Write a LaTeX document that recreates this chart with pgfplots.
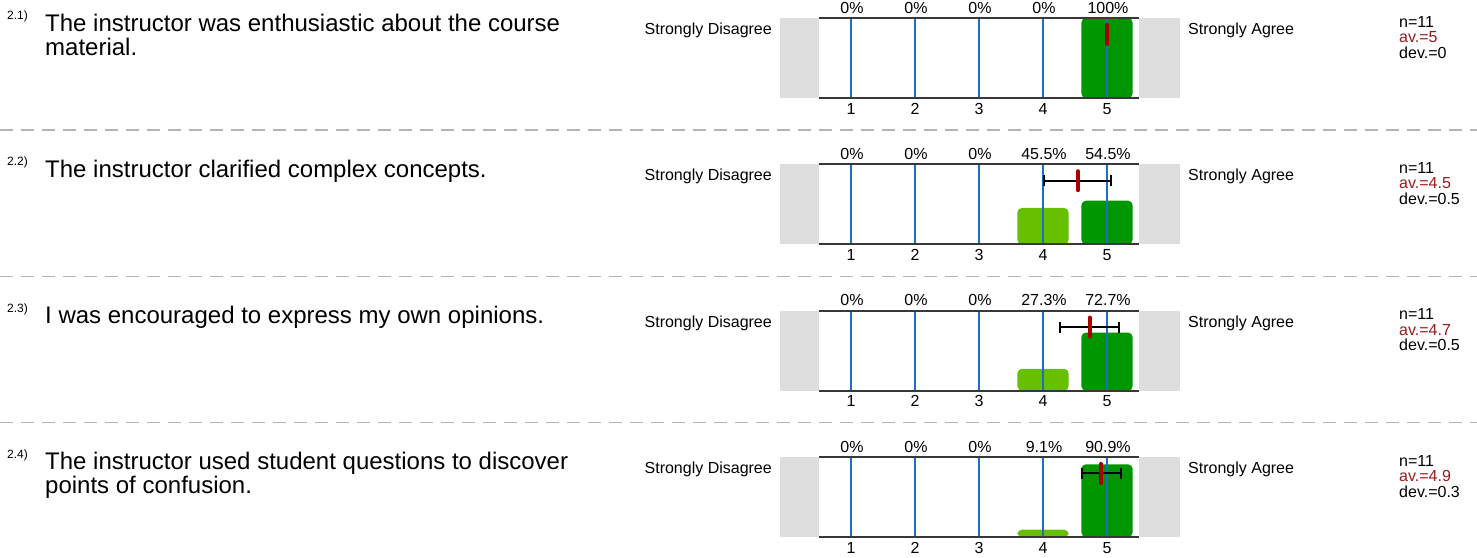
\documentclass[border=0pt]{standalone}
\usepackage{fontspec}
\setmainfont{Liberation Sans}
\usepackage{pgfplots}
\pgfplotsset{compat=1.18}

\definecolor{boxgray}{HTML}{DEDEDE}
\definecolor{axisgray}{HTML}{383838}
\definecolor{gridblue}{RGB}{30,110,195}
\definecolor{lgreen}{HTML}{66C000}
\definecolor{dgreen}{HTML}{009600}
\definecolor{meanred}{HTML}{A80000}
\definecolor{avred}{HTML}{9B1B1B}
\definecolor{dashgray}{HTML}{B4B4B4}

\newcommand\sm{\fontsize{16pt}{16pt}\selectfont}
\newcommand\qf{\fontsize{24pt}{24pt}\selectfont}
\newcommand\nf{\fontsize{12pt}{12pt}\selectfont}

\pgfplotsset{
  panel/.style={width=320pt,height=80pt,scale only axis,anchor=north west,
    xmin=0.5,xmax=5.5,ymin=5,ymax=105,
    xtick={1,2,3,4,5},ytick=\empty,
    axis line style={draw=none},major tick length=0pt,tick style={draw=none},
    xticklabel style={font=\sm,inner sep=0pt,anchor=base,yshift=-16pt},
    /pgf/number format/assume math mode=true,
    clip mode=individual},
  shifted/.style={y filter/.expression={y+5}},
  gbar/.style={ybar,bar width=0.8,draw=none,rounded corners=4.5pt,shifted},
  gline/.style={draw=gridblue,color=gridblue,line width=1.25pt,mark=none,shifted},
  errbar/.style={black,line width=2pt,mark=none,shifted,
    error bars/.cd,x dir=both,x explicit,error mark=-,
    error bar style={line width=2pt,black},
    error mark options={rotate=90,mark size=5.5pt,line width=2pt,black}},
  meanmark/.style={only marks,mark=|,mark size=9.5pt,
    mark options={line width=4pt,line cap=round,draw=meanred},shifted},
}

\newcommand\gridlines{%
  \addplot[gline] coordinates {(1,-10) (1,110)};
  \addplot[gline] coordinates {(2,-10) (2,110)};
  \addplot[gline] coordinates {(3,-10) (3,110)};
  \addplot[gline] coordinates {(4,-10) (4,110)};
  \addplot[gline] coordinates {(5,-10) (5,110)};
}
% frame pieces (T = top of the axis in px)
\newcommand\panelframe[1]{%
  \fill[boxgray] (780pt,-#1pt) rectangle (819pt,{-(#1+80)*1pt});
  \fill[boxgray] (1139pt,-#1pt) rectangle (1180pt,{-(#1+80)*1pt});
  \node[anchor=base east,inner sep=0pt,font=\sm] at (772pt,{-(#1+16.5)*1pt}) {Strongly Disagree};
  \node[anchor=base west,inner sep=0pt,font=\sm] at (1188pt,{-(#1+16.5)*1pt}) {Strongly Agree};
}
\newcommand\pcts[6]{%
  \node[anchor=base,inner sep=0pt,font=\sm] at (852pt,{-(#1-5)*1pt}) {#2};
  \node[anchor=base,inner sep=0pt,font=\sm] at (916pt,{-(#1-5)*1pt}) {#3};
  \node[anchor=base,inner sep=0pt,font=\sm] at (980pt,{-(#1-5)*1pt}) {#4};
  \node[anchor=base,inner sep=0pt,font=\sm] at (1044pt,{-(#1-5)*1pt}) {#5};
  \node[anchor=base,inner sep=0pt,font=\sm] at (1108pt,{-(#1-5)*1pt}) {#6};
}
\newcommand\stats[3]{%
  \node[anchor=base west,inner sep=0pt,font=\sm] at (1399pt,{-(#1+9)*1pt}) {n=11};
  \node[anchor=base west,inner sep=0pt,font=\sm,text=avred] at (1399pt,{-(#1+24.5)*1pt}) {av.=#2};
  \node[anchor=base west,inner sep=0pt,font=\sm] at (1399pt,{-(#1+40)*1pt}) {dev.=#3};
}
\newcommand\qnum[2]{%
  \node[anchor=base west,inner sep=0pt,font=\nf] at (7pt,{-(#1+1.5)*1pt}) {#2};
}
\newcommand\qline[3]{%
  \node[anchor=base west,inner sep=0pt,font=\qf] at (45pt,{-(#1+#2)*1pt}) {#3};
}
\newcommand\axlines{%
  \draw[axisgray,line width=2pt] (axis description cs:0,0) -- (axis description cs:1,0);
  \draw[axisgray,line width=2pt] (axis description cs:0,1) -- (axis description cs:1,1);
}
\newcommand\sep[1]{%
  \draw[dashgray,line width=1.5pt,dash pattern=on 13pt off 8pt] (0pt,-#1pt) -- (1477pt,-#1pt);
}

\begin{document}
\begin{tikzpicture}
\useasboundingbox (0pt,0pt) rectangle (1477pt,-557pt);

% ---------- Panel 2.1 ----------
\panelframe{18}
\pcts{18}{0\%}{0\%}{0\%}{0\%}{100\%}
\stats{18}{5}{0}
\qnum{18}{2.1)}
\qline{18}{13}{The instructor was enthusiastic about the course}
\qline{18}{37}{material.}
\begin{axis}[panel,at={(819pt,-18pt)}]
  \addplot[gbar,fill=dgreen] coordinates {(5,100)};
  \gridlines
  \addplot[meanmark] coordinates {(5,79.5)};
  \axlines
\end{axis}
\sep{130}

% ---------- Panel 2.2 ----------
\panelframe{164.3}
\pcts{164.3}{0\%}{0\%}{0\%}{45.5\%}{54.5\%}
\stats{164.3}{4.5}{0.5}
\qnum{164.3}{2.2)}
\qline{164.3}{13}{The instructor clarified complex concepts.}
\begin{axis}[panel,at={(819pt,-164.3pt)}]
  \addplot[gbar,fill=lgreen] coordinates {(4,45.5)};
  \addplot[gbar,fill=dgreen] coordinates {(5,54.5)};
  \gridlines
  \addplot[errbar] coordinates {(4.545,79.5) +- (0.522,0)};
  \addplot[meanmark] coordinates {(4.545,79.5)};
  \axlines
\end{axis}
\sep{276.3}

% ---------- Panel 2.3 ----------
\panelframe{310.7}
\pcts{310.7}{0\%}{0\%}{0\%}{27.3\%}{72.7\%}
\stats{310.7}{4.7}{0.5}
\qnum{310.7}{2.3)}
\qline{310.7}{13}{I was encouraged to express my own opinions.}
\begin{axis}[panel,at={(819pt,-310.7pt)}]
  \addplot[gbar,fill=lgreen] coordinates {(4,27.3)};
  \addplot[gbar,fill=dgreen] coordinates {(5,72.7)};
  \gridlines
  \addplot[errbar] coordinates {(4.727,79.5) +- (0.467,0)};
  \addplot[meanmark] coordinates {(4.727,79.5)};
  \axlines
\end{axis}
\sep{422.7}

% ---------- Panel 2.4 ----------
\panelframe{457}
\pcts{457}{0\%}{0\%}{0\%}{9.1\%}{90.9\%}
\stats{457}{4.9}{0.3}
\qnum{457}{2.4)}
\qline{457}{12}{The instructor used student questions to discover}
\qline{457}{36}{points of confusion.}
\begin{axis}[panel,at={(819pt,-457pt)}]
  \addplot[gbar,fill=lgreen] coordinates {(4,9.1)};
  \addplot[gbar,fill=dgreen] coordinates {(5,90.9)};
  \gridlines
  \addplot[errbar] coordinates {(4.909,79.5) +- (0.302,0)};
  \addplot[meanmark] coordinates {(4.909,79.5)};
  \axlines
\end{axis}
\end{tikzpicture}
\end{document}
